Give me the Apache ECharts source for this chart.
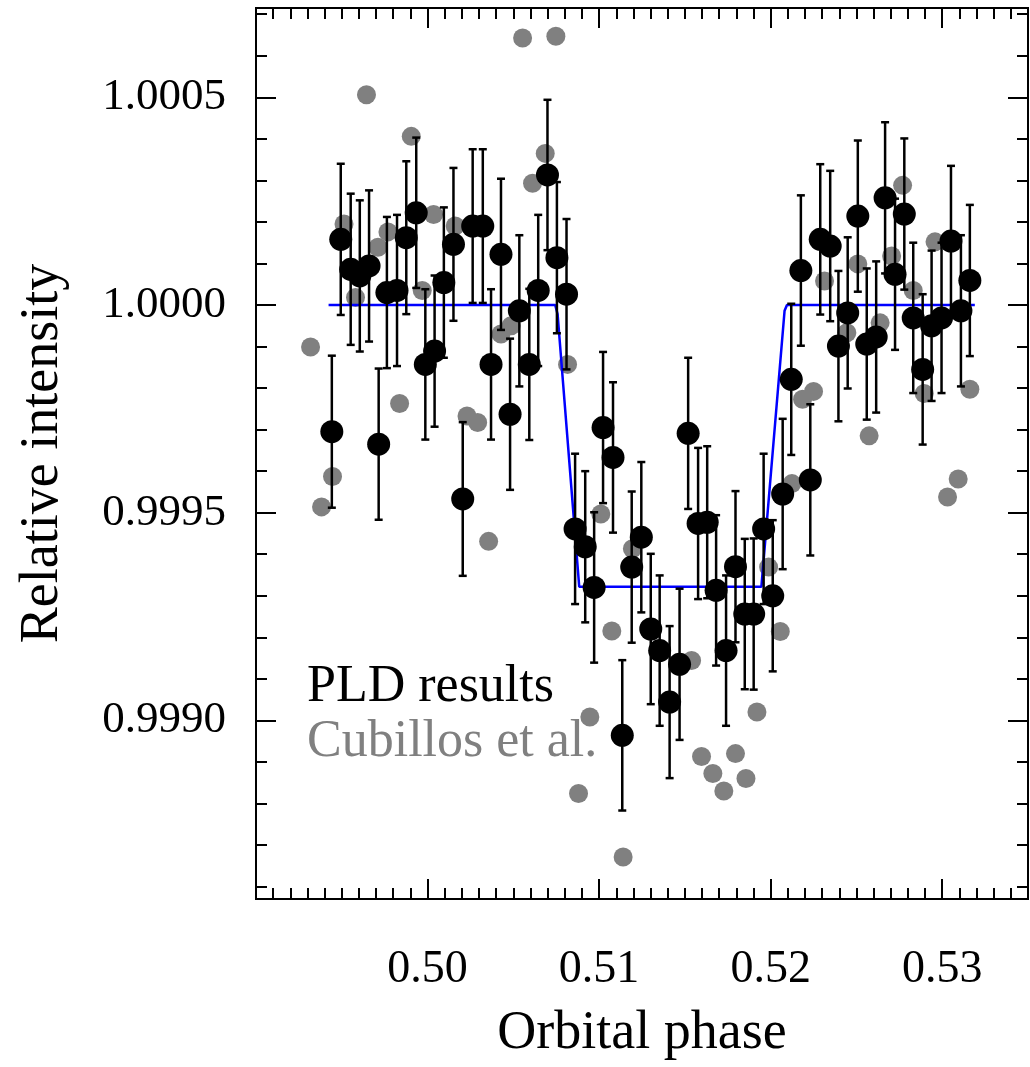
<!DOCTYPE html>
<html>
<head>
<meta charset="utf-8">
<script src="https://cdn.jsdelivr.net/npm/echarts@6/dist/echarts.min.js"></script>
<style>
html, body { margin: 0; padding: 0; background: #fff; }
#box { width: 1030px; height: 1067px; }
</style>
</head>
<body>
<div id="box"></div>
<script>
// PLD results (black, with error bars)
var pldPhase = [0.49442, 0.49494, 0.49552, 0.49605, 0.49659, 0.49715, 0.49763, 0.49822, 0.49876, 0.49934,
    0.49987, 0.50041, 0.50095, 0.50151, 0.50205, 0.50263, 0.50322, 0.50370, 0.50428, 0.50481,
    0.50535, 0.50593, 0.50645, 0.50699, 0.50754, 0.50810, 0.50860, 0.50919, 0.50971, 0.51023,
    0.51081, 0.51135, 0.51190, 0.51246, 0.51301, 0.51353, 0.51411, 0.51469, 0.51519, 0.51577,
    0.51630, 0.51682, 0.51740, 0.51795, 0.51849, 0.51901, 0.51959, 0.52012, 0.52070, 0.52120,
    0.52176, 0.52231, 0.52289, 0.52347, 0.52395, 0.52449, 0.52508, 0.52560, 0.52615, 0.52667,
    0.52725, 0.52779, 0.52831, 0.52886, 0.52938, 0.52996, 0.53051, 0.53109, 0.53161];
var pldFlux = [0.999695, 1.000158, 1.000086, 1.000070, 1.000094, 0.999665, 1.000030, 1.000035, 1.000162, 1.000222,
    0.999857, 0.999889, 1.000054, 1.000146, 0.999533, 1.000190, 1.000190, 0.999857, 1.000122, 0.999737,
    0.999986, 0.999857, 1.000035, 1.000313, 1.000114, 1.000026, 0.999461, 0.999418, 0.999320, 0.999705,
    0.999633, 0.998964, 0.999369, 0.999441, 0.999220, 0.999168, 0.999044, 0.999135, 0.999691, 0.999474,
    0.999477, 0.999313, 0.999168, 0.999370, 0.999256, 0.999256, 0.999461, 0.999300, 0.999545, 0.999821,
    1.000083, 0.999579, 1.000158, 1.000142, 0.999901, 0.999981, 1.000214, 0.999906, 0.999923, 1.000258,
    1.000074, 1.000219, 0.999969, 0.999845, 0.999950, 0.999969, 1.000154, 0.999986, 1.000059];
var pldErr = [0.000183, 0.000182, 0.000182, 0.000182, 0.000182, 0.000182, 0.000182, 0.000182, 0.000184, 0.000181,
    0.000181, 0.000182, 0.000181, 0.000184, 0.000185, 0.000185, 0.000185, 0.000181, 0.000182, 0.000182,
    0.000182, 0.000182, 0.000182, 0.000181, 0.000182, 0.000181, 0.000181, 0.000182, 0.000181, 0.000182,
    0.000181, 0.000181, 0.000182, 0.000181, 0.000181, 0.000181, 0.000183, 0.000182, 0.000182, 0.000182,
    0.000183, 0.000181, 0.000181, 0.000182, 0.000181, 0.000182, 0.000181, 0.000182, 0.000181, 0.000182,
    0.000181, 0.000182, 0.000181, 0.000181, 0.000181, 0.000182, 0.000182, 0.000182, 0.000182, 0.000182,
    0.000182, 0.000182, 0.000181, 0.000181, 0.000181, 0.000181, 0.000181, 0.000182, 0.000182];

// Cubillos et al. (grey)
var cubPhase = [0.49318, 0.49382, 0.49446, 0.49513, 0.49580, 0.49644, 0.49711, 0.49769, 0.49837, 0.49905,
    0.49969, 0.50035, 0.50161, 0.50230, 0.50292, 0.50356, 0.50428, 0.50487, 0.50554, 0.50612,
    0.50686, 0.50748, 0.50816, 0.50880, 0.50946, 0.51010, 0.51074, 0.51140, 0.51194, 0.51539,
    0.51597, 0.51663, 0.51727, 0.51795, 0.51856, 0.51920, 0.51988, 0.52056, 0.52124, 0.52186,
    0.52250, 0.52314, 0.52444, 0.52508, 0.52574, 0.52638, 0.52705, 0.52769, 0.52831, 0.52895,
    0.52958, 0.53031, 0.53093, 0.53161];
var cubFlux = [0.999899, 0.999514, 0.999587, 1.000195, 1.000018, 1.000506, 1.000139, 1.000176, 0.999763, 1.000406,
    1.000035, 1.000218, 1.000190, 0.999733, 0.999717, 0.999431, 0.999930, 0.999950, 1.000643, 1.000293,
    1.000365, 1.000647, 0.999857, 0.998824, 0.999008, 0.999497, 0.999215, 0.998671, 0.999413, 0.999144,
    0.998913, 0.998872, 0.998830, 0.998920, 0.998860, 0.999020, 0.999369, 0.999214, 0.999570, 0.999773,
    0.999792, 1.000058, 0.999933, 1.000099, 0.999685, 0.999957, 1.000118, 1.000288, 1.000035, 0.999787,
    1.000152, 0.999538, 0.999581, 0.999797];

// eclipse model (blue)
var modelPhase = [0.49423, 0.50744, 0.50758, 0.50884, 0.51946, 0.52081, 0.52095, 0.53190];
var modelFlux = [1.0, 1.0, 0.999978, 0.999322, 0.999322, 0.999986, 1.0, 1.0];

var xMin = 0.49, xMax = 0.535;
var yMin = 0.99857, yMax = 1.000715;

var font = 'Liberation Serif, Times New Roman, serif';

function zip(a, b, c) {
    var list = [];
    for (let i = 0; i < a.length; i++) {
        list.push(c ? [a[i], b[i], c[i]] : [a[i], b[i]]);
    }
    return list;
}

function errBar(params, api) {
    var x = api.value(0);
    var y = api.value(1);
    var e = api.value(2);
    var hi = api.coord([x, y + e]);
    var lo = api.coord([x, y - e]);
    var hw = 4;
    var st = { stroke: '#000', lineWidth: 2.5 };
    return {
        type: 'group',
        children: [
            { type: 'line', shape: { x1: hi[0], y1: hi[1], x2: lo[0], y2: lo[1] }, style: st },
            { type: 'line', shape: { x1: hi[0] - hw, y1: hi[1], x2: hi[0] + hw, y2: hi[1] }, style: st },
            { type: 'line', shape: { x1: lo[0] - hw, y1: lo[1], x2: lo[0] + hw, y2: lo[1] }, style: st }
        ]
    };
}

function xAx(pos, major) {
    var ax = {
        type: 'value',
        position: pos,
        min: xMin,
        max: xMax,
        interval: major ? 0.01 : 0.001,
        axisLine: { show: false },
        axisTick: { inside: true, length: major ? 20 : 11, lineStyle: { color: '#000', width: 2 } },
        axisLabel: { show: false },
        splitLine: { show: false }
    };
    if (major && pos == 'bottom') {
        ax.axisLabel = {
            show: true, showMinLabel: false, showMaxLabel: false,
            formatter: function (v) { return v.toFixed(2); },
            fontSize: 46, fontFamily: font, color: '#000', margin: 48
        };
        ax.name = 'Orbital phase';
        ax.nameLocation = 'middle';
        ax.nameGap = 108;
        ax.nameTextStyle = { fontSize: 54, fontFamily: font, color: '#000' };
    }
    return ax;
}

function yAx(pos, major) {
    var step = major ? 0.0005 : 0.0001;
    var ax = {
        type: 'value',
        position: pos,
        min: yMin,
        max: yMax,
        splitNumber: major ? 4 : 20,
        minInterval: step,
        maxInterval: step,
        axisLine: { show: false },
        axisTick: { inside: true, length: major ? 20 : 11, lineStyle: { color: '#000', width: 2 } },
        axisLabel: { show: false },
        splitLine: { show: false }
    };
    if (major && pos == 'left') {
        ax.axisLabel = {
            show: true, showMinLabel: false, showMaxLabel: false,
            formatter: function (v) { return v.toFixed(4); },
            fontSize: 45, fontFamily: font, color: '#000', margin: 30
        };
        ax.name = 'Relative intensity';
        ax.nameLocation = 'middle';
        ax.nameGap = 186;
        ax.nameTextStyle = { fontSize: 54, fontFamily: font, color: '#000' };
    }
    return ax;
}

var myChart = echarts.init(document.getElementById('box'));
var option = {
    backgroundColor: '#fff',
    animation: false,
    grid: {
        left: 256, right: 2, top: 8, bottom: 168,
        show: true, borderColor: '#000', borderWidth: 2, backgroundColor: 'transparent'
    },
    xAxis: [xAx('bottom', true), xAx('top', true), xAx('bottom', false), xAx('top', false)],
    yAxis: [yAx('left', true), yAx('right', true), yAx('left', false), yAx('right', false)],
    graphic: [
        { type: 'text', left: 307, top: 661, style: { text: 'PLD results', font: '52px ' + font, fill: '#000' } },
        { type: 'text', left: 307, top: 716, style: { text: 'Cubillos et al.', font: '52px ' + font, fill: '#808080' } }
    ],
    series: [{
        name: 'Cubillos et al.',
        type: 'scatter',
        symbolSize: 19,
        itemStyle: { color: '#808080', opacity: 1 },
        data: zip(cubPhase, cubFlux),
        z: 2
    }, {
        name: 'model',
        type: 'line',
        showSymbol: false,
        lineStyle: { color: '#0000ff', width: 2.5 },
        data: zip(modelPhase, modelFlux),
        z: 3
    }, {
        name: 'err',
        type: 'custom',
        renderItem: errBar,
        encode: { x: 0, y: 1 },
        data: zip(pldPhase, pldFlux, pldErr),
        z: 4
    }, {
        name: 'PLD results',
        type: 'scatter',
        symbolSize: 23,
        itemStyle: { color: '#000', opacity: 1 },
        data: zip(pldPhase, pldFlux),
        z: 5
    }]
};
myChart.setOption(option);
</script>
</body>
</html>
